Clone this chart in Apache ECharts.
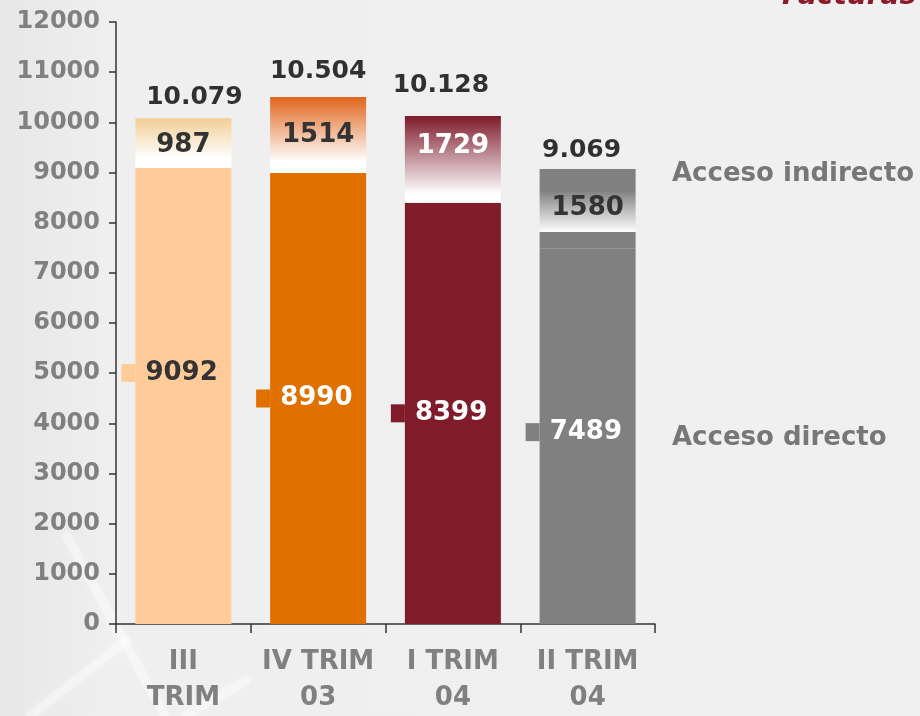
<!DOCTYPE html>
<html>
<head>
<meta charset="utf-8">
<script src="https://cdn.jsdelivr.net/npm/echarts@6/dist/echarts.min.js"></script>
<style>
  html, body { margin: 0; padding: 0; }
  #main { width: 920px; height: 716px; }
</style>
</head>
<body>
<div id="main"></div>
<script>
// datos
var categories = ['III\nTRIM', 'IV TRIM\n03', 'I TRIM\n04', 'II TRIM\n04']
var directo = [9092, 8990, 8399, 7489]
var indirecto = [987, 1514, 1729, 1580]
var totales = [10079, 10504, 10128, 9069]
var yTicks = [0, 12000, 1000]

// estilos por barra
var colores = ['#FFCC99', '#E07000', '#801B2A', '#808080']
var coloresTope = ['#F2CE94', '#E0661C', '#7E1A2A', '#808080']
var colorTxtDirecto = ['#333333', '#ffffff', '#ffffff', '#ffffff']
var colorTxtIndirecto = ['#333333', '#333333', '#ffffff', '#333333']
var desplDirecto = [-23, 0, 0, -4]
var desplIndirecto = [2, 0, -13, 0]
var desplTotal = [[11, -3], [0, -8], [-12, -12], [-6, -1]]
var blancoEn = [0.8, 0.85, 0.9, 0.8]

var FONT = 'DejaVu Sans'

function miles(v) {
  return String(v).replace(/\B(?=(\d{3})+(?!\d))/g, '.')
}

function degradado(i) {
  if (i === 3) {
    return new echarts.graphic.LinearGradient(0, 0, 0, 1, [
      { offset: 0, color: '#808080' },
      { offset: 0.27, color: '#808080' },
      { offset: 0.8, color: '#ffffff' },
      { offset: 0.8, color: '#808080' },
      { offset: 1, color: '#808080' }
    ])
  }
  return new echarts.graphic.LinearGradient(0, 0, 0, 1, [
    { offset: 0, color: coloresTope[i] },
    { offset: blancoEn[i], color: '#ffffff' },
    { offset: 1, color: '#ffffff' }
  ])
}

var myChart = echarts.init(document.getElementById('main'))

var rayo = { stroke: 'rgba(255,255,255,0.35)', lineWidth: 9, lineCap: 'round', shadowBlur: 10, shadowColor: 'rgba(255,255,255,0.8)' }

var option = {
  backgroundColor: new echarts.graphic.LinearGradient(0, 0, 1, 0, [
    { offset: 0, color: '#e7e7e7' },
    { offset: 0.12, color: '#efefef' },
    { offset: 1, color: '#f0f0f0' }
  ]),
  textStyle: { fontFamily: FONT },
  animation: false,
  grid: { left: 116, right: 265, top: 22, bottom: 92 },
  xAxis: {
    type: 'category',
    data: categories,
    axisLine: { lineStyle: { color: '#333333', width: 1.5 } },
    axisTick: { show: true, length: 9, lineStyle: { color: '#333333', width: 1.5 } },
    axisLabel: {
      color: '#808080', fontSize: 26, fontWeight: 'bold', fontFamily: FONT,
      lineHeight: 36, margin: 20, interval: 0
    }
  },
  yAxis: {
    type: 'value',
    min: yTicks[0],
    max: yTicks[1],
    interval: yTicks[2],
    axisLine: { show: true, lineStyle: { color: '#333333', width: 1.5 } },
    axisTick: { show: true, length: 7, lineStyle: { color: '#333333', width: 1.5 } },
    splitLine: { show: false },
    axisLabel: {
      color: '#808080', fontSize: 24, fontWeight: 'bold', fontFamily: FONT, margin: 16,
      formatter: function (v) { return String(v) }
    }
  },
  series: [
    {
      name: 'Acceso directo',
      type: 'bar',
      stack: 'total',
      barWidth: 96,
      data: directo.map(function (v, i) {
        return {
          value: v,
          itemStyle: { color: colores[i] },
          label: {
            offset: [-14, desplDirecto[i]],
            rich: {
              m: { width: 14, height: 18, lineHeight: 18, backgroundColor: colores[i] },
              v: { fontSize: 26, fontWeight: 'bold', fontFamily: FONT, color: colorTxtDirecto[i], padding: [0, 0, 0, 10] }
            }
          }
        }
      }),
      label: {
        show: true,
        position: 'insideLeft',
        distance: 0,
        formatter: function (p) { return '{m|}{v|' + p.value + '}' }
      }
    },
    {
      name: 'Acceso indirecto',
      type: 'bar',
      stack: 'total',
      barWidth: 96,
      data: indirecto.map(function (v, i) {
        return {
          value: v,
          itemStyle: { color: degradado(i) },
          label: { color: colorTxtIndirecto[i], offset: [0, desplIndirecto[i]] }
        }
      }),
      label: {
        show: true,
        position: 'inside',
        fontSize: 26,
        fontWeight: 'bold',
        fontFamily: FONT
      }
    },
    {
      name: 'Total',
      type: 'scatter',
      symbolSize: 0,
      silent: true,
      data: totales.map(function (v, i) {
        return { value: v, label: { offset: desplTotal[i] } }
      }),
      label: {
        show: true,
        position: 'top',
        distance: 5,
        color: '#000000',
        fontSize: 25,
        fontWeight: 'bold',
        fontFamily: FONT,
        lineHeight: 26,
        formatter: function (p) { return miles(p.value) }
      }
    }
  ],
  graphic: [
    { type: 'line', silent: true, z: -1, shape: { x1: 67, y1: 537, x2: 165, y2: 716 }, style: rayo },
    { type: 'line', silent: true, z: -1, shape: { x1: 127, y1: 640, x2: 30, y2: 716 }, style: rayo },
    { type: 'line', silent: true, z: -1, shape: { x1: 247, y1: 680, x2: 185, y2: 716 }, style: rayo },
    { type: 'text', left: 672, top: 161,
      style: { text: 'Acceso indirecto', fill: '#777777', font: 'bold 26px "DejaVu Sans"' } },
    { type: 'text', left: 672, top: 425,
      style: { text: 'Acceso directo', fill: '#777777', font: 'bold 26px "DejaVu Sans"' } },
    { type: 'text', left: 782, top: -17,
      style: { text: 'Facturas', fill: '#8B1A2B', font: 'italic bold 28px "DejaVu Sans"' } }
  ]
}

myChart.setOption(option)
</script>
</body>
</html>
